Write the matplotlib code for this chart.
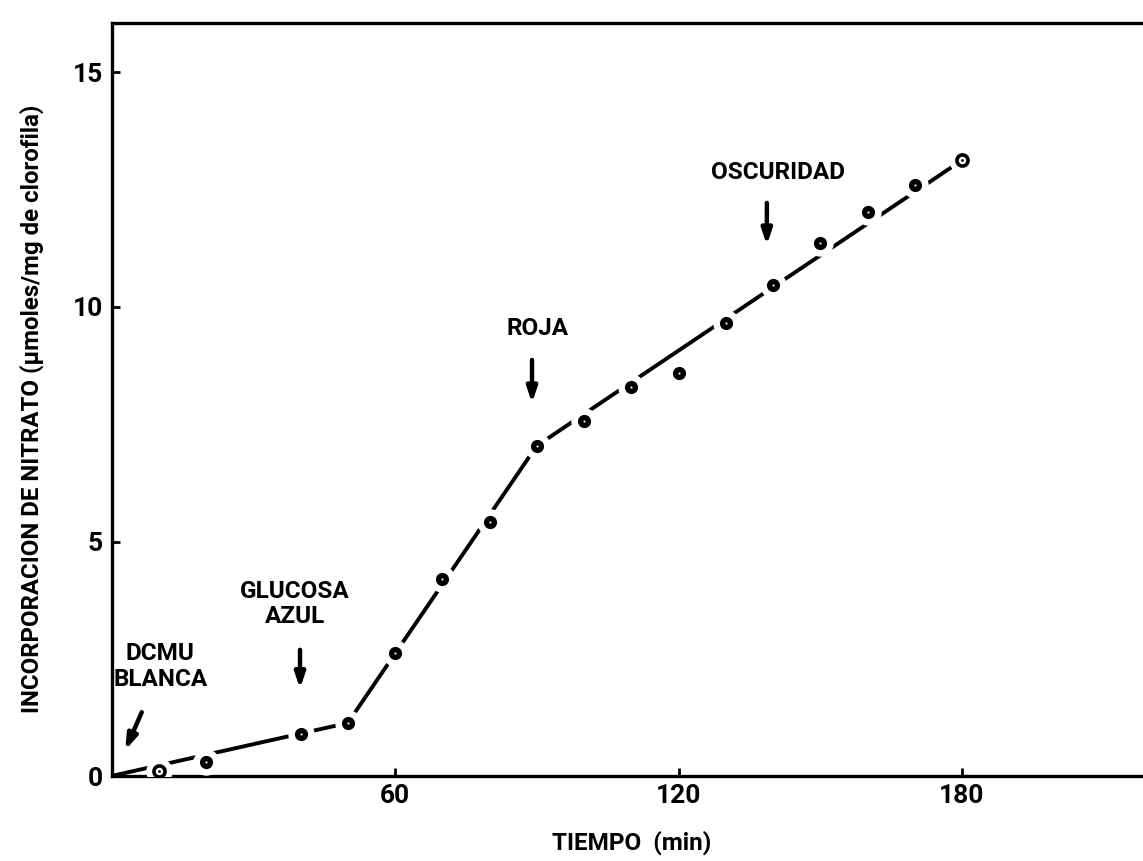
import matplotlib
matplotlib.use("Agg")
import matplotlib.pyplot as plt

# ---- data ----
tiempo = [10, 20, 40, 50, 60, 70, 80, 90, 100, 110, 120, 130, 140, 150, 160, 170, 180]
nitrato = [0.1, 0.3, 0.9, 1.13, 2.62, 4.2, 5.42, 7.04, 7.57, 8.29, 8.59, 9.66, 10.47, 11.36, 12.03, 12.6, 13.13]
open_points = [10, 180]
fit_x = [0, 50, 90, 180]
fit_y = [0, 1.13, 7.04, 13.13]
x_ticks = [60, 120, 180]
y_ticks = [0, 5, 10, 15]
labels = ["DCMU\nBLANCA", "GLUCOSA\nAZUL", "ROJA", "OSCURIDAD"]
label_x = [10.3, 38.8, 90.2, 141.1]
label_y = [2.33, 3.67, 9.55, 12.86]
arrow_tail = [(6.4, 1.36), (39.9, 2.69), (89.0, 8.87), (138.7, 12.22)]
arrow_head = [(2.9, 0.55), (39.9, 1.86), (89.0, 7.95), (138.7, 11.32)]

FONT = ['Roboto', 'DejaVu Sans']
plt.rcParams['font.family'] = FONT
plt.rcParams['font.weight'] = 'bold'
plt.rcParams['font.stretch'] = 'condensed'

W, H = 1143, 861
fig = plt.figure(figsize=(W / 100, H / 100), dpi=100)
left, bottom = 111.5 / W, (H - 776) / H
top = (H - 23) / H
ax = fig.add_axes([left, bottom, 1.0 - left, top - bottom])
ax.set_xlim(0, (W - 111.5) / 283.5 * 60)
ax.set_ylim(0, (776 - 23) / 46.9)

for s in ['left', 'bottom', 'top']:
    ax.spines[s].set_linewidth(2.4)
ax.spines['right'].set_visible(False)

# fitted piecewise line
ax.plot(fit_x, fit_y, color='black', lw=2.8, solid_capstyle='butt', zorder=2)
# white halo around points to break the line
ax.plot(tiempo, nitrato, linestyle='none', marker='o', ms=18, mfc='white', mec='white', zorder=3)
filled_x = [t for t in tiempo if t not in open_points]
filled_y = [v for t, v in zip(tiempo, nitrato) if t not in open_points]
open_y = [v for t, v in zip(tiempo, nitrato) if t in open_points]
ax.plot(filled_x, filled_y, linestyle='none', marker='o', ms=9.5, mfc='black', mec='black', mew=0, zorder=4)
ax.plot(filled_x, filled_y, linestyle='none', marker='o', ms=1.5, mfc='white', mew=0, zorder=5)
ax.plot(open_points, open_y, linestyle='none', marker='o', ms=8, mfc='white', mec='black', mew=2.6, zorder=4)
ax.plot(open_points, open_y, linestyle='none', marker='o', ms=2, mfc='black', mew=0, zorder=5)

ax.set_xticks(x_ticks)
ax.set_yticks(y_ticks)
ax.tick_params(axis='both', direction='in', length=6, width=2, labelsize=19, pad=6)
for lab in ax.get_xticklabels() + ax.get_yticklabels():
    lab.set_fontweight('bold')
    lab.set_fontstretch('condensed')

for txt, lx, ly in zip(labels, label_x, label_y):
    ax.text(lx, ly, txt, ha='center', va='center', fontsize=17.5, fontweight='bold',
            fontstretch='condensed', linespacing=1.15, zorder=6)
for (tx, ty), (hx, hy) in zip(arrow_tail, arrow_head):
    ax.annotate('', xy=(hx, hy), xytext=(tx, ty),
                arrowprops=dict(arrowstyle='-|>,head_length=0.9,head_width=0.3',
                                lw=3.2, color='black', shrinkA=0, shrinkB=0), zorder=6)

fig.text(632 / W, (H - 843) / H, 'TIEMPO  (min)', ha='center', va='center',
         fontsize=17.5, fontweight='bold', fontstretch='condensed')
fig.text(32 / W, (H - 409) / H, 'INCORPORACION DE NITRATO (\u03bcmoles/mg de clorofila)',
         ha='center', va='center', rotation=90, fontsize=17.3, fontweight='bold',
         fontstretch='condensed')

fig.savefig('out.png', dpi=100)
